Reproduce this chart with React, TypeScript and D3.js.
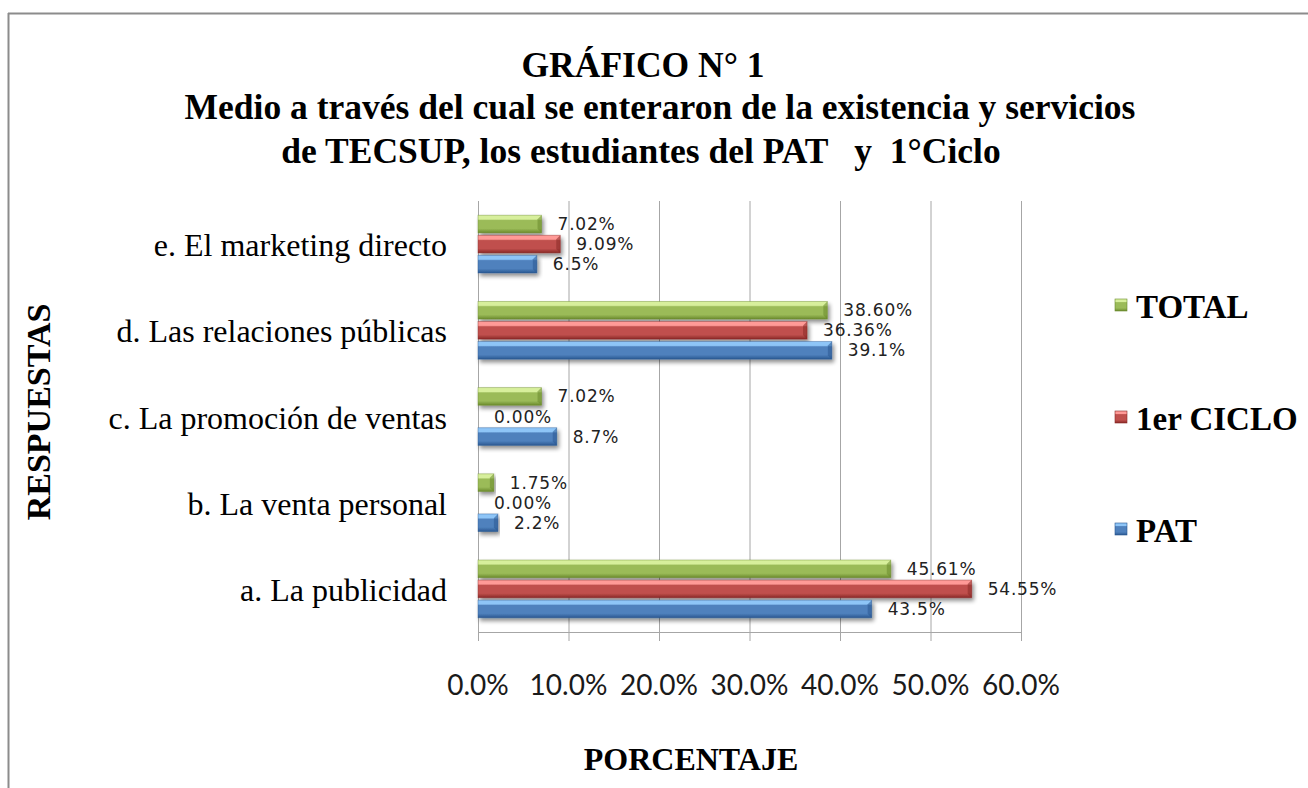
import React from "react";
import * as d3 from "d3";

const categories = [
  "e. El marketing directo",
  "d. Las relaciones públicas",
  "c. La promoción de ventas",
  "b. La venta personal",
  "a. La publicidad",
];
const seriesNames = ["TOTAL", "1er CICLO", "PAT"];
const totalValues = [7.02, 38.6, 7.02, 1.75, 45.61];
const cicloValues = [9.09, 36.36, 0, 0, 54.55];
const patValues = [6.5, 39.1, 8.7, 2.2, 43.5];
const labelFormats = [".2%", ".2%", ".1%"];
const xTicks = [0, 10, 20, 30, 40, 50, 60];

const colors = [
  { light: "#d7ef9c", mid: "#9bbb59", dark: "#6a8a2c" },
  { light: "#ff9a97", mid: "#c0504d", dark: "#892826" },
  { light: "#8ec5f7", mid: "#4f81bd", dark: "#2a5891" },
];

const W = 1308;
const H = 788;
const left = 478;
const right = 1021;
const top = 201;
const bottom = 632;

export default function App() {
  const x = d3.scaleLinear().domain([0, 60]).range([left, right]);
  const y0 = d3.scaleBand<string>().domain(categories).range([top, bottom]).paddingInner(0.33).paddingOuter(0.165);
  const y1 = d3.scaleBand<string>().domain(seriesNames).range([0, y0.bandwidth()]).paddingInner(0.12);
  const seriesValues = [totalValues, cicloValues, patValues];
  const serif = "'Liberation Serif', 'Times New Roman', serif";

  return (
    <svg width={W} height={H} style={{ position: "absolute", left: 0, top: 0, background: "#fff" }}>
      <defs>
        {colors.map((c, i) => (
          <linearGradient key={i} id={`g${i}`} x1="0" y1="0" x2="0" y2="1">
            <stop offset="0" stopColor={c.light} />
            <stop offset="0.22" stopColor={c.light} />
            <stop offset="0.3" stopColor={c.mid} />
            <stop offset="0.75" stopColor={c.mid} />
            <stop offset="1" stopColor={c.dark} />
          </linearGradient>
        ))}
        <filter id="sh" x="-5%" y="-30%" width="115%" height="190%">
          <feGaussianBlur in="SourceAlpha" stdDeviation="2.2" />
          <feOffset dx="2" dy="3" result="b" />
          <feComponentTransfer><feFuncA type="linear" slope="0.45" /></feComponentTransfer>
          <feMerge><feMergeNode /><feMergeNode in="SourceGraphic" /></feMerge>
        </filter>
      </defs>
      <rect x={0} y={0} width={W} height={H} fill="#fff" />
      <line x1={8} y1={13.5} x2={W} y2={13.5} stroke="#8c8c8c" strokeWidth={2} />
      <line x1={8.5} y1={13} x2={8.5} y2={H} stroke="#8c8c8c" strokeWidth={2} />

      <g fontFamily={serif} fontWeight="bold" fontSize={35.5} textAnchor="middle" fill="#000">
        <text x={643} y={77}>GRÁFICO N° 1</text>
        <text x={660} y={119}>Medio a través del cual se enteraron de la existencia y servicios</text>
        <text x={641} y={163} style={{ whiteSpace: "pre" }}>{"de TECSUP, los estudiantes del PAT   y  1°Ciclo"}</text>
      </g>

      {xTicks.map((t) => (
        <g key={t}>
          <line x1={x(t) + 0.5} x2={x(t) + 0.5} y1={top} y2={bottom + 9} stroke="#a6a6a6" strokeWidth={1} />
          <text x={x(t)} y={695} textAnchor="middle" fontFamily="Lato, 'Open Sans', sans-serif" fontSize={28} fill="#1a1a1a">
            {d3.format(".1f")(t) + "%"}
          </text>
        </g>
      ))}
      <line x1={left} x2={right + 1} y1={bottom + 0.5} y2={bottom + 0.5} stroke="#a6a6a6" strokeWidth={1} />

      {categories.map((cat, ci) => (
        <g key={cat}>
          {seriesNames.map((s, si) => {
            const v = seriesValues[si][ci];
            const by = (y0(cat) as number) + (y1(s) as number);
            const bh = y1.bandwidth();
            const bx = x(0);
            const bw = x(v) - x(0);
            const c = colors[si];
            const bev = Math.min(4, bw / 2);
            return (
              <g key={s}>
                {bw > 0 && (
                  <g filter="url(#sh)">
                    <rect x={bx} y={by} width={bw} height={bh} fill={`url(#g${si})`} />
                    <polygon points={`${bx + bw - bev},${by + bev} ${bx + bw},${by} ${bx + bw},${by + bh} ${bx + bw - bev},${by + bh - bev}`} fill={c.dark} opacity={0.55} />
                    <rect x={bx} y={by} width={bw} height={bh} fill="none" stroke={c.dark} strokeOpacity={0.5} strokeWidth={0.8} />
                  </g>
                )}
                <text x={x(v) + 16} y={by + bh / 2 + 6} fontFamily="'DejaVu Sans', sans-serif" fontSize={17} letterSpacing={0.8} fill="#222">
                  {d3.format(labelFormats[si])(v / 100)}
                </text>
              </g>
            );
          })}
          <text x={447} y={(y0(cat) as number) + y0.bandwidth() / 2 + 12} textAnchor="end" fontFamily={serif} fontSize={32} fill="#000">
            {cat}
          </text>
        </g>
      ))}

      <text transform={`translate(50,412) rotate(-90)`} textAnchor="middle" fontFamily={serif} fontWeight="bold" fontSize={34}>RESPUESTAS</text>
      <text x={691} y={770} textAnchor="middle" fontFamily={serif} fontWeight="bold" fontSize={32}>PORCENTAJE</text>

      {seriesNames.map((s, i) => {
        const ly = [306, 418, 530][i];
        return (
          <g key={s}>
            <rect x={1115} y={ly - 7} width={12} height={12} fill={`url(#g${i})`} stroke={colors[i].dark} strokeWidth={0.6} />
            <text x={1136} y={ly + 12} fontFamily={serif} fontWeight="bold" fontSize={33}>{s}</text>
          </g>
        );
      })}
    </svg>
  );
}
